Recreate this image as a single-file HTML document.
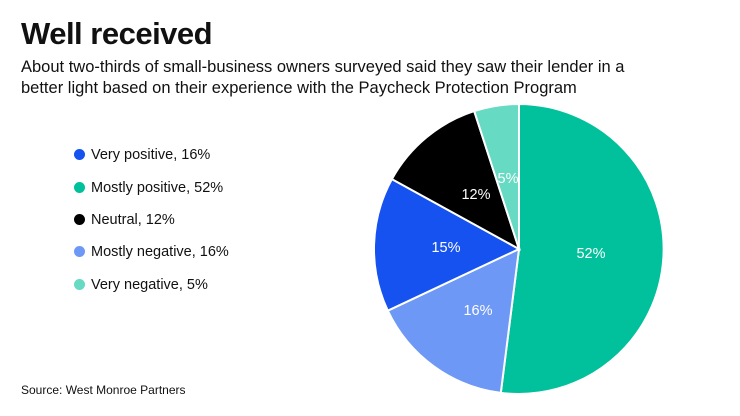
<!DOCTYPE html>
<html><head><meta charset="utf-8"><style>
body{margin:0;width:740px;height:416px;background:#fff;font-family:"Liberation Sans",sans-serif;color:#111;position:relative;overflow:hidden}
.t{position:absolute;left:21px;top:16px;font-size:31px;font-weight:bold;letter-spacing:-0.5px}
.s{position:absolute;left:21px;top:57px;font-size:16.5px;line-height:21px;width:720px;white-space:nowrap}
.lg{position:absolute;left:74px;font-size:14.5px}
.lg i{display:inline-block;width:11px;height:11px;border-radius:50%;margin-right:6px;vertical-align:-1px}
.src{position:absolute;left:21px;top:383px;font-size:12px}
</style></head><body>
<div class="t">Well received</div>
<div class="s">About two-thirds of small-business owners surveyed said they saw their lender in a<br>better light based on their experience with the Paycheck Protection Program</div>
<div class="lg" style="top:147px"><i style="background:#1652f0"></i>Very positive, 16%</div>
<div class="lg" style="top:180px"><i style="background:#00c19b"></i>Mostly positive, 52%</div>
<div class="lg" style="top:212px"><i style="background:#000"></i>Neutral, 12%</div>
<div class="lg" style="top:244px"><i style="background:#6e98f5"></i>Mostly negative, 16%</div>
<div class="lg" style="top:277px"><i style="background:#66dac2"></i>Very negative, 5%</div>
<div class="src">Source: West Monroe Partners</div>
<svg width="740" height="416" style="position:absolute;left:0;top:0" font-family="Liberation Sans, sans-serif" font-size="14.5" fill="#fff">
<g stroke="#fff" stroke-width="2">
<path d="M519 249 L519 104 A145 145 0 1 1 500.8 392.9 Z" fill="#00c19b"/>
<path d="M519 249 L500.8 392.9 A145 145 0 0 1 387.8 310.7 Z" fill="#6e98f5"/>
<path d="M519 249 L387.8 310.7 A145 145 0 0 1 391.9 179.1 Z" fill="#1652f0"/>
<path d="M519 249 L391.9 179.1 A145 145 0 0 1 474.2 111.1 Z" fill="#000"/>
<path d="M519 249 L474.2 111.1 A145 145 0 0 1 519 104 Z" fill="#66dac2"/>
</g>
<g text-anchor="middle">
<text x="591" y="258">52%</text>
<text x="478" y="315">16%</text>
<text x="446" y="252">15%</text>
<text x="476" y="199">12%</text>
<text x="508" y="183">5%</text>
</g>
</svg>
</body></html>
